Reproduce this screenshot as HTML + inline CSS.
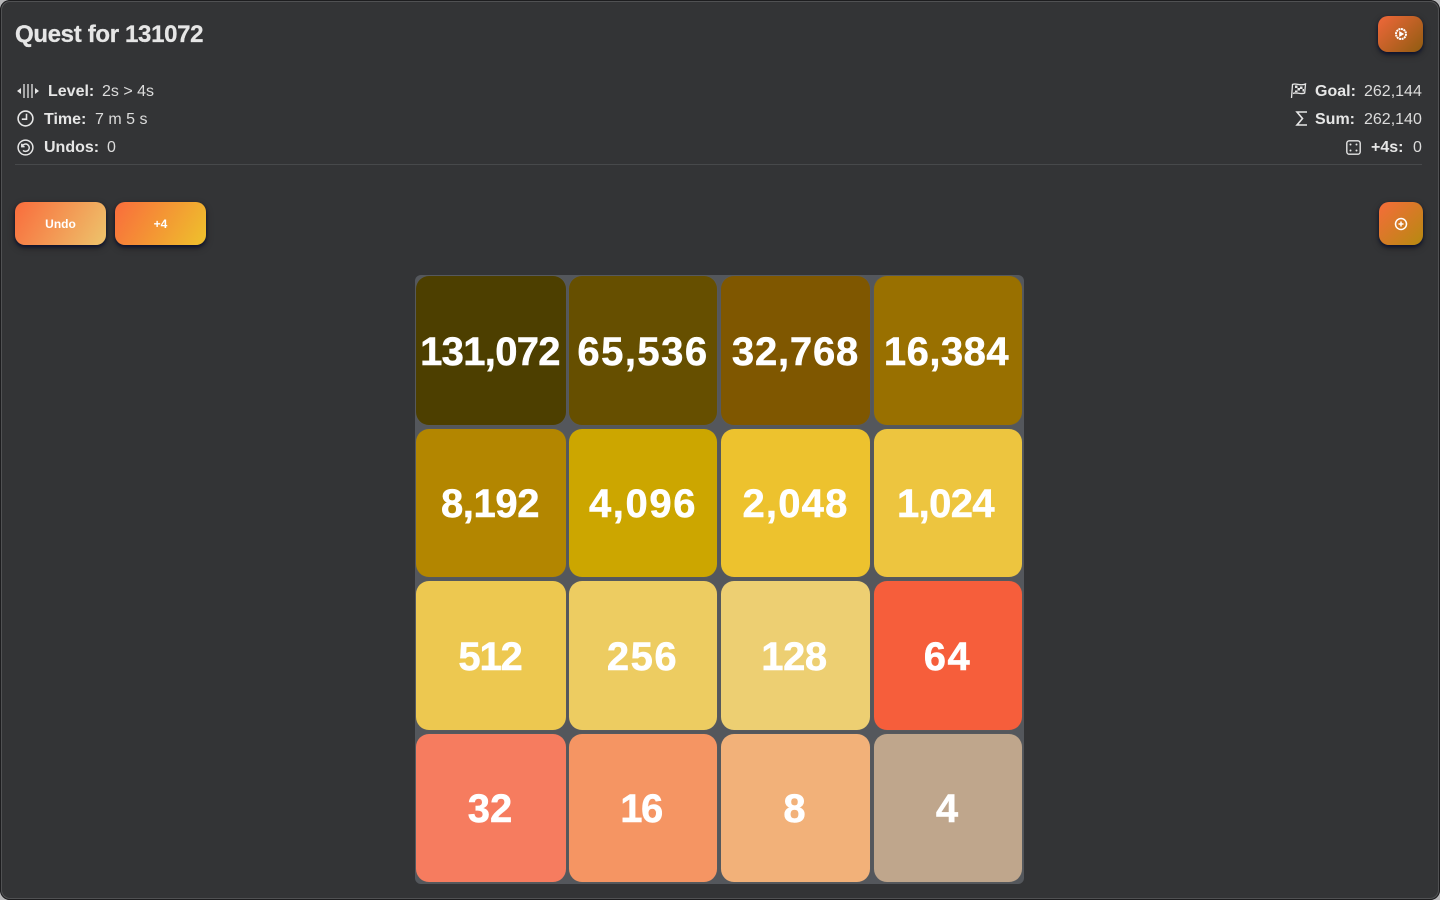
<!DOCTYPE html>
<html lang="en">
<head>
<meta charset="utf-8">
<title>Quest for 131072</title>
<style>
html,body{margin:0;padding:0;width:1440px;height:900px;overflow:hidden;background:#b9b9bb;}
*{box-sizing:border-box;}
body{font-family:"Liberation Sans",sans-serif;position:relative;}
#win{position:absolute;left:0;top:0;width:1440px;height:900px;background:#333436;border-radius:10px;box-shadow:inset 0 0 0 1px #1d1d1f,inset 0 0 0 2px #505153;overflow:hidden;}
.abs{position:absolute;}
#title{left:15px;top:20px;font-size:24px;line-height:30px;font-weight:bold;color:#e6e6e6;letter-spacing:-.33px;white-space:nowrap;-webkit-text-stroke:.3px #e6e6e6;}
.row{position:absolute;height:20px;line-height:20px;font-size:16px;color:#dcdcdc;white-space:nowrap;}
.row b{color:#e6e6e6;}
.row svg,.ic{position:absolute;}
.lab,.val{position:absolute;top:1px;}
#sep{left:15px;top:164px;width:1407px;height:1px;background:#47494b;}
.btn{position:absolute;border:0;padding:0;border-radius:10px;color:#fff;font:bold 12px "Liberation Sans",sans-serif;box-shadow:0 2px 3px #0d1330,0 3px 8px rgba(0,0,0,.3);display:flex;align-items:center;justify-content:center;}
#board{left:415px;top:275px;width:609px;height:609px;background:#54575c;border-radius:6px;}
.tile{position:absolute;border-radius:13px;color:#fff;font-weight:bold;font-size:40px;-webkit-text-stroke:.5px #fff;display:flex;align-items:center;justify-content:center;white-space:nowrap;padding:3px 2px 0 0;box-shadow:0 0 0 1px rgba(90,92,96,.4);}
</style>
</head>
<body>
<div id="win">
  <div id="title" class="abs">Quest for 131072</div>

  <button class="btn" style="left:1378px;top:16px;width:45px;height:36px;background:linear-gradient(135deg,#f0673a,#8f5c10);">
    <svg width="14" height="14" viewBox="0 0 14 14"><circle cx="7" cy="7" r="5" fill="none" stroke="#fff" stroke-width="2" stroke-dasharray="2 .6"/><path d="M5.200 4 10.200 7 5.200 10Z" fill="#fff"/></svg>
  </button>

  <div class="row" style="left:0;top:81px;width:300px;">
    <svg style="left:16px;top:2px" width="23" height="16" viewBox="0 0 23 16" fill="none" stroke="#e6e6e6" stroke-width="1.3"><path d="M8 1v14M12 1v14M16 1v14"/><path d="M1 8l4-3v6zM23 8l-4-3v6z" fill="#e6e6e6" stroke="none"/></svg>
    <b class="lab" style="left:48px">Level:</b><span class="val" style="left:102px">2s &gt; 4s</span>
  </div>
  <div class="row" style="left:0;top:109px;width:300px;">
    <svg style="left:17px;top:1px" width="17" height="17" viewBox="0 0 17 17" fill="none" stroke="#e6e6e6" stroke-width="1.6"><circle cx="8.500" cy="8.500" r="7.400"/><path d="M9.500 3.800v5.400H4.800"/></svg>
    <b class="lab" style="left:44px">Time:</b><span class="val" style="left:95px">7 m 5 s</span>
  </div>
  <div class="row" style="left:0;top:137px;width:300px;">
    <svg style="left:17px;top:2px" width="17" height="17" viewBox="0 0 17 17" fill="none" stroke="#e6e6e6" stroke-width="1.5"><circle cx="8.500" cy="8.500" r="7.400"/><path d="M5.200 7.200A3.700 3.700 0 1 1 6 11.400M4.800 4.800v2.800h2.800"/></svg>
    <b class="lab" style="left:44px">Undos:</b><span class="val" style="left:107px">0</span>
  </div>

  <div class="row" style="left:1140px;top:81px;width:300px;">
    <svg style="left:150px;top:1px" width="17" height="17" viewBox="0 0 17 17" fill="none" stroke="#e6e6e6" stroke-width="1.300"><path d="M1.500 16 2.500 2.500C6 .5 10 4.500 15.500 2l-.8 9c-4 2-8-1.500-11.700.5"/><path d="M5 3.500h2.500V6H5zM10 4.500h2.500V7H10zM7.500 6H10v2.500H7.500zM5 8.500h2.500V10H5zM12.500 7H14v2.500h-1.500z" fill="#e6e6e6" stroke="none"/></svg>
    <b class="lab" style="left:175px">Goal:</b><span class="val" style="left:224px">262,144</span>
  </div>
  <div class="row" style="left:1140px;top:109px;width:300px;">
    <svg style="left:155px;top:1px" width="13" height="17" viewBox="0 0 13 17" fill="none" stroke="#e6e6e6" stroke-width="1.600"><path d="M12 2H2l5.500 6.500L2 15h10"/></svg>
    <b class="lab" style="left:175px">Sum:</b><span class="val" style="left:224px">262,140</span>
  </div>
  <div class="row" style="left:1140px;top:137px;width:300px;">
    <svg style="left:206px;top:3px" width="15" height="15" viewBox="0 0 15 15" fill="none" stroke="#e6e6e6" stroke-width="1.400"><rect x=".8" y=".8" width="13.400" height="13.400" rx="2.500"/><g fill="#e6e6e6" stroke="none"><circle cx="4.500" cy="4.500" r="1"/><circle cx="10.500" cy="4.500" r="1"/><circle cx="4.500" cy="10.500" r="1"/><circle cx="10.500" cy="10.500" r="1"/></g></svg>
    <b class="lab" style="left:231px">+4s:</b><span class="val" style="left:273px">0</span>
  </div>

  <div id="sep" class="abs"></div>

  <button class="btn" style="left:15px;top:202px;width:91px;height:43px;background:linear-gradient(120deg,#f96c3c,#edc46c);">Undo</button>
  <button class="btn" style="left:115px;top:202px;width:91px;height:43px;background:linear-gradient(120deg,#f96c3c,#eec22c);">+4</button>
  <button class="btn" style="left:1379px;top:202px;width:44px;height:43px;background:linear-gradient(135deg,#f66c3a,#b58a10);">
    <svg width="14" height="14" viewBox="0 0 14 14" fill="none" stroke="#fff" stroke-width="1.500"><circle cx="7" cy="7" r="5.500"/><path d="M4.500 7h5M7 4.500v5"/></svg>
  </button>

  <div id="board" class="abs">
    <div class="tile" style="left:1px;top:1px;width:150px;height:149px;background:#4d3f00;letter-spacing:-.7px">131,072</div>
    <div class="tile" style="left:154px;top:1px;width:148px;height:149px;background:#664f00;letter-spacing:1.5px;padding-right:0">65,536</div>
    <div class="tile" style="left:306px;top:1px;width:149px;height:149px;background:#7f5700;letter-spacing:.8px;padding-right:0">32,768</div>
    <div class="tile" style="left:459px;top:1px;width:148px;height:149px;background:#997000;letter-spacing:.5px;padding-right:3px">16,384</div>

    <div class="tile" style="left:1px;top:154px;width:150px;height:148px;background:#b38600;letter-spacing:-.4px">8,192</div>
    <div class="tile" style="left:154px;top:154px;width:148px;height:148px;background:#cca600;letter-spacing:1.6px;padding-right:0">4,096</div>
    <div class="tile" style="left:306px;top:154px;width:149px;height:148px;background:#edc22e;letter-spacing:1.2px;padding-right:0">2,048</div>
    <div class="tile" style="left:459px;top:154px;width:148px;height:148px;background:#edc53f;letter-spacing:-.6px;padding-right:5px">1,024</div>

    <div class="tile" style="left:1px;top:306px;width:150px;height:149px;background:#edc850;letter-spacing:-1.200px">512</div>
    <div class="tile" style="left:154px;top:306px;width:148px;height:149px;background:#edcc61;letter-spacing:1.500px;padding-right:1px">256</div>
    <div class="tile" style="left:306px;top:306px;width:149px;height:149px;background:#edcf72;letter-spacing:-.4px;padding-right:3px">128</div>
    <div class="tile" style="left:459px;top:306px;width:148px;height:149px;background:#f65e3b;letter-spacing:1.500px;padding-right:1px">64</div>

    <div class="tile" style="left:1px;top:459px;width:150px;height:148px;background:#f67c5f">32</div>
    <div class="tile" style="left:154px;top:459px;width:148px;height:148px;background:#f59563;letter-spacing:-1.500px;padding-right:4px">16</div>
    <div class="tile" style="left:306px;top:459px;width:149px;height:148px;background:#f2b179">8</div>
    <div class="tile" style="left:459px;top:459px;width:148px;height:148px;background:#bfa68c">4</div>
  </div>
</div>
</body>
</html>
